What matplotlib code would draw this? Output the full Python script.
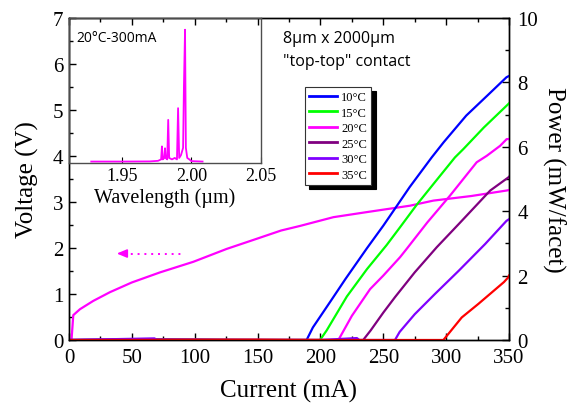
import matplotlib
matplotlib.use("Agg")
import matplotlib.pyplot as plt
from matplotlib.ticker import MultipleLocator

# ---------------- data ----------------
v_current = [0, 2, 3.4, 8.75, 19.3, 32.6, 49.9, 72.4, 98.9, 125.4, 149.3, 168.7,
             183.8, 210.3, 236.8, 271.3, 289.8, 320, 348.2, 350]
v_voltage = [0, 0, 0.54, 0.67, 0.85, 1.04, 1.25, 1.47, 1.70, 1.98, 2.2, 2.38,
             2.48, 2.67, 2.78, 2.92, 3.03, 3.13, 3.25, 3.26]

temps = ["10°C", "15°C", "20°C", "25°C", "30°C", "35°C"]
colors = ["#0000FF", "#00FF00", "#FF00FF", "#800080", "#8000FF", "#FF0000"]

i_10 = [0, 70, 120, 189, 194, 208, 220, 237, 250, 260, 271, 288.5, 298, 316, 333, 348, 350]
p_10 = [0, 0.02, 0, 0, 0.39, 1.2, 1.9, 2.85, 3.55, 4.12, 4.75, 5.67, 6.14, 6.97, 7.6, 8.16, 8.2]

i_15 = [0, 100, 150, 199.7, 205, 221, 237, 252.7, 263.3, 276.6, 290, 307, 313.7, 330, 349.5, 350]
p_15 = [0, 0.01, 0, 0, 0.3, 1.35, 2.2, 2.95, 3.5, 4.2, 4.85, 5.67, 5.93, 6.6, 7.33, 7.35]

i_20 = [0, 90, 160, 214.3, 225, 239.5, 241.5, 250, 263.3, 268.6, 285, 303, 324.3, 332.3, 342.9, 348.2, 350]
p_20 = [0, 0.01, 0, 0, 0.75, 1.58, 1.66, 2.0, 2.57, 2.83, 3.65, 4.48, 5.52, 5.72, 6.03, 6.24, 6.24]

i_25 = [0, 80, 180, 234, 240, 250, 259.3, 275, 292.5, 310, 335, 349.5, 350]
p_25 = [0, 0.01, 0, 0, 0.3, 0.85, 1.33, 2.1, 2.88, 3.6, 4.64, 5.05, 5.07]

i_30 = [0, 68, 70, 200, 229, 231, 259.3, 263, 275, 291.1, 310, 331, 348, 350]
p_30 = [0, 0.05, 0, 0, 0.06, 0, 0, 0.25, 0.8, 1.43, 2.15, 2.98, 3.7, 3.75]

i_35 = [0, 150, 210, 297.8, 302, 312.4, 325.6, 340, 346, 349.5, 350]
p_35 = [0, 0.01, 0, 0, 0.2, 0.7, 1.12, 1.6, 1.8, 1.95, 2.0]

power_currents = [i_10, i_15, i_20, i_25, i_30, i_35]
power_values = [p_10, p_15, p_20, p_25, p_30, p_35]

spec_wl = [1.928, 1.95, 1.97, 1.976, 1.9782, 1.9788, 1.9794, 1.9805, 1.9810, 1.9815,
           1.9826, 1.9833, 1.9840, 1.9860, 1.9880, 1.9896, 1.9904, 1.9912, 1.9925,
           1.9940, 1.9946, 1.9954, 1.9960, 1.9970, 1.9985, 2.0, 2.008]
spec_int = [0.005, 0.005, 0.006, 0.01, 0.02, 0.11, 0.02, 0.03, 0.097, 0.03,
            0.02, 0.294, 0.03, 0.02, 0.03, 0.02, 0.375, 0.03, 0.05,
            0.1, 0.525, 0.919, 0.1, 0.03, 0.02, 0.008, 0.005]

# ---------------- figure ----------------
W, H = 570, 414
fig = plt.figure(figsize=(W / 100, H / 100), dpi=100)
serif = "Liberation Serif"
sans = "Open Sans"

L, R, T, B = 69, 509, 19, 341
ax = fig.add_axes([L / W, 1 - B / H, (R - L) / W, (B - T) / H])
ax2 = ax.twinx()

ax.plot(v_current, v_voltage, color="#FF00FF", lw=1.6, zorder=3)
ax.set_xlim(0, 350)
ax.set_ylim(0, 7)

# dotted arrow pointing to the voltage axis
ax.plot([44, 90], [1.88, 1.88], color="#FF00FF", lw=1.4, ls=(0, (1, 2.5)))
ax.annotate("", xy=(38, 1.88), xytext=(46, 1.88),
            arrowprops=dict(arrowstyle="-|>,head_length=0.6,head_width=0.25",
                            color="#FF00FF", lw=1.2, shrinkA=0, shrinkB=0))

for cur, pw, c, lab in zip(power_currents, power_values, colors, temps):
    ax2.plot(cur, pw, color=c, lw=1.6, label=lab)
ax2.set_ylim(0, 10)
ax2.set_xlim(0, 350)

# ticks
ax.xaxis.set_major_locator(MultipleLocator(50))
ax.xaxis.set_minor_locator(MultipleLocator(25))
ax.yaxis.set_major_locator(MultipleLocator(1))
ax.yaxis.set_minor_locator(MultipleLocator(0.5))
ax2.yaxis.set_major_locator(MultipleLocator(2))
ax2.yaxis.set_minor_locator(MultipleLocator(1))
ax.tick_params(which="both", direction="in", top=True, right=False,
               labelsize=15, pad=4)
ax.tick_params(axis="x", which="both", pad=6)
ax.tick_params(which="major", length=5, width=1)
ax.tick_params(which="minor", length=3, width=1)
ax2.tick_params(which="both", direction="in", labelsize=15, pad=6)
ax2.tick_params(which="major", length=5, width=1)
ax2.tick_params(which="minor", length=3, width=1)
for a in (ax, ax2):
    for lab in a.get_xticklabels() + a.get_yticklabels():
        lab.set_fontfamily(serif)
    for s in a.spines.values():
        s.set_linewidth(1.0)

ax.set_xlabel("Current (mA)", fontsize=18, family=serif, labelpad=8)
ax.set_ylabel("Voltage (V)", fontsize=18, family=serif, labelpad=10)
ax2.set_ylabel("Power (mW/facet)", fontsize=18, family=serif, rotation=-90,
               labelpad=20)

leg = ax2.legend(loc="upper left", bbox_to_anchor=(0.536, 0.786), borderaxespad=0,
                 prop={"family": serif, "size": 9}, frameon=True, fancybox=False,
                 shadow={"ox": 3, "oy": -3, "color": "black", "alpha": 1},
                 handlelength=2.2, handletextpad=0.35, borderpad=0.35,
                 labelspacing=0.28)
leg.get_frame().set_edgecolor("0.2")
leg.get_frame().set_linewidth(0.8)
for line in leg.get_lines():
    line.set_linewidth(2.0)

fig.text(283 / W, 1 - 43 / H, "8µm x 2000µm", family=sans, fontsize=11.5,
         ha="left", va="baseline")
fig.text(283 / W, 1 - 66 / H, "\"top-top\" contact", family=sans, fontsize=11.5,
         ha="left", va="baseline")

# ---------------- inset ----------------
IL, IR, IT, IB = 69, 261, 19, 164
axi = fig.add_axes([IL / W, 1 - IB / H, (IR - IL) / W, (IB - IT) / H])
axi.set_facecolor("none")
axi.plot(spec_wl, spec_int, color="#FF00FF", lw=1.3)
axi.set_xlim(1.912, 2.05)
axi.set_ylim(-0.005, 1.0)
axi.set_xticks([1.95, 2.00, 2.05])
axi.set_xticklabels(["1.95", "2.00", "2.05"])
axi.set_yticks([])
axi.tick_params(axis="x", direction="in", length=4, labelsize=13, pad=3)
for lab in axi.get_xticklabels():
    lab.set_fontfamily(serif)
for s in axi.spines.values():
    s.set_color("0.3")
    s.set_linewidth(1.0)
axi.set_xlabel("Wavelength (µm)", fontsize=14.5, family=serif, labelpad=2)
axi.text(0.04, 0.84, "20°C-300mA", transform=axi.transAxes, family=sans,
         fontsize=10, ha="left", va="baseline")

fig.savefig("out.png", dpi=100)
